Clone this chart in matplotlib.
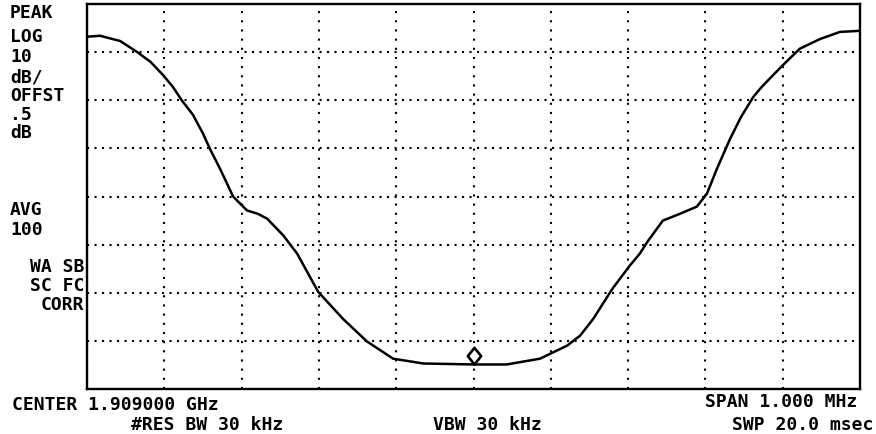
import matplotlib
matplotlib.use("Agg")
import matplotlib.pyplot as plt
from matplotlib.path import Path

# trace: offset from centre (kHz) and level (dB below ref)
freq_khz = [-500, -483, -457, -435, -418, -402, -389, -377, -363, -350,
            -341, -328, -311, -293, -279, -267, -246, -228, -201, -169,
            -138, -104, -65, 0, 43, 86, 121, 138, 155, 180,
            202, 215, 225, 245, 267, 289, 302, 315, 332, 346,
            362, 373, 399, 422, 448, 474, 497, 500]
level_db = [-6.8, -6.6, -7.7, -10.0, -12.0, -14.7, -17.2, -20.1, -23.0, -26.9,
            -30.1, -34.2, -40.0, -42.9, -43.6, -44.6, -48.1, -51.9, -59.8, -65.4,
            -70.1, -73.7, -74.7, -74.9, -74.9, -73.7, -71.0, -68.9, -65.4, -59.1,
            -54.4, -51.9, -49.4, -45.0, -43.6, -42.1, -39.4, -34.2, -28.0, -23.5,
            -19.3, -17.2, -12.9, -9.3, -7.3, -5.8, -5.6, -5.5]

marker_khz = 0
marker_db = -74.9

span_khz = 1000
ref_db = 0
db_per_div = 10
n_xdiv = 10
n_ydiv = 8

left_labels = ["PEAK", "LOG", "10", "dB/", "OFFST", ".5", "dB", "AVG", "100"]
left_label_y = [18, 42, 62, 82, 101, 120, 138, 215, 235]
right_labels = ["WA SB", "SC FC", "CORR"]
right_label_y = [272, 291, 310]

W, H = 876, 435
fig = plt.figure(figsize=(W / 100, H / 100), dpi=100)
ax = fig.add_axes([87 / W, 1 - 390 / H, 773 / W, 385 / H])

ax.plot(freq_khz, level_db, color="black", lw=1.8, solid_joinstyle="round")

# HP-style marker: diamond sitting on the trace point
diamond = Path([(0, 0), (0.8, 1), (0, 2), (-0.8, 1), (0, 0)],
               [Path.MOVETO, Path.LINETO, Path.LINETO, Path.LINETO, Path.CLOSEPOLY])
ax.plot([marker_khz], [marker_db], marker=diamond, ms=24, mfc="white",
        mec="black", mew=1.9, zorder=5)

ax.set_xlim(-span_khz / 2, span_khz / 2)
ax.set_ylim(ref_db - n_ydiv * db_per_div, ref_db)
ax.set_xticks([-span_khz / 2 + i * span_khz / n_xdiv for i in range(n_xdiv + 1)])
ax.set_yticks([ref_db - i * db_per_div for i in range(n_ydiv + 1)])
ax.tick_params(length=0, labelbottom=False, labelleft=False)
ax.xaxis.grid(True, color="black", lw=1.5, linestyle=(0, (1, 3.4)))
ax.yaxis.grid(True, color="black", lw=1.5, linestyle=(0, (1, 2.6)))
for sp in ax.spines.values():
    sp.set_linewidth(1.7)

font = dict(family="DejaVu Sans Mono", weight="bold", fontsize=13, color="black",
            va="baseline")

def put(x, y, s, ha="left"):
    fig.text(x / W, 1 - y / H, s, ha=ha, **font)

for s, y in zip(left_labels, left_label_y):
    put(10, y, s)
for s, y in zip(right_labels, right_label_y):
    put(84, y, s, ha="right")

put(12, 410, "CENTER 1.909000 GHz")
put(283, 430, "#RES BW 30 kHz", ha="right")
put(487, 430, "VBW 30 kHz", ha="center")
put(857, 407, "SPAN 1.000 MHz", ha="right")
put(873, 430, "SWP 20.0 msec", ha="right")

fig.savefig("out.png", dpi=100)
